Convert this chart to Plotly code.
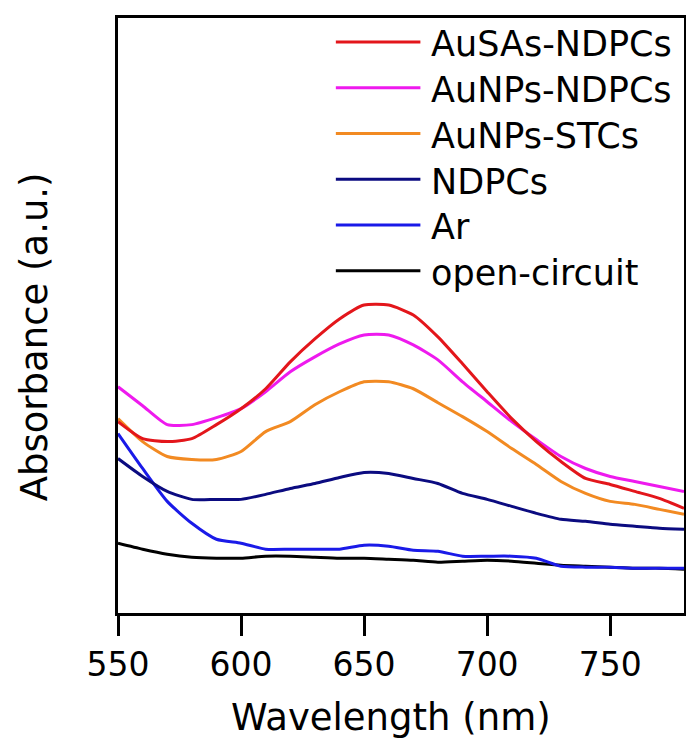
"""UV-vis absorbance spectra (indophenol-type band) for the Au catalysts."""
import plotly.graph_objects as go

wavelength = [550, 560, 570, 580, 590, 600, 610, 620, 630, 640, 650, 660,
              670, 680, 690, 700, 710, 720, 730, 740, 750, 760, 770, 780]

ausas_ndpcs = [1.92, 1.75, 1.72, 1.75, 1.89, 2.05, 2.25, 2.52, 2.75, 2.95, 3.09, 3.09,
               2.99, 2.77, 2.50, 2.22, 1.95, 1.72, 1.52, 1.35, 1.29, 1.22, 1.15, 1.05]
aunps_ndpcs = [2.27, 2.08, 1.89, 1.89, 1.96, 2.05, 2.22, 2.42, 2.57, 2.70, 2.79, 2.79,
               2.69, 2.54, 2.32, 2.12, 1.92, 1.74, 1.57, 1.45, 1.37, 1.32, 1.27, 1.22]
aunps_stcs = [1.95, 1.72, 1.57, 1.54, 1.54, 1.62, 1.82, 1.92, 2.09, 2.22, 2.32, 2.32,
              2.25, 2.11, 1.97, 1.82, 1.65, 1.49, 1.32, 1.20, 1.12, 1.09, 1.04, 0.99]
ndpcs = [1.55, 1.37, 1.22, 1.14, 1.14, 1.14, 1.19, 1.25, 1.30, 1.36, 1.41, 1.40,
         1.35, 1.30, 1.20, 1.14, 1.07, 1.00, 0.94, 0.92, 0.89, 0.87, 0.85, 0.84]
ar = [1.80, 1.45, 1.12, 0.90, 0.74, 0.70, 0.64, 0.64, 0.64, 0.64, 0.68, 0.67,
      0.63, 0.62, 0.57, 0.57, 0.57, 0.55, 0.47, 0.46, 0.46, 0.45, 0.45, 0.45]
open_circuit = [0.70, 0.64, 0.59, 0.56, 0.55, 0.55, 0.57, 0.57, 0.56, 0.55, 0.55, 0.54,
                0.53, 0.51, 0.52, 0.53, 0.52, 0.50, 0.48, 0.47, 0.46, 0.45, 0.45, 0.44]

names = ["AuSAs-NDPCs", "AuNPs-NDPCs", "AuNPs-STCs", "NDPCs", "Ar", "open-circuit"]
series = [ausas_ndpcs, aunps_ndpcs, aunps_stcs, ndpcs, ar, open_circuit]
colors = ["#e3161b", "#ee1aee", "#f28a22", "#0b0b80", "#1a1ae8", "#000000"]
xticks = [550, 600, 650, 700, 750]

FONT = "DejaVu Sans"
PAGE_PAD = 8  # default body margin of the html page
WIN_W, WIN_H = 694, 743

fig = go.Figure()
# draw back to front so red ends on top
for name, ys, col in reversed(list(zip(names, series, colors))):
    fig.add_trace(go.Scatter(
        x=wavelength, y=ys, name=name, mode="lines",
        line=dict(color=col, width=3, shape="spline", smoothing=0.6),
        showlegend=False,
    ))

# plot box in window pixels
LEFT, RIGHT, TOP, BOTTOM = 118, 687, 16, 613
W_PLOT, H_PLOT = RIGHT - LEFT, BOTTOM - TOP


def px_x(x):
    return (x - LEFT) / W_PLOT


def px_y(y):
    return (BOTTOM - y) / H_PLOT


# hand-drawn legend, long line samples like the original
for i, (name, col) in enumerate(zip(names, colors)):
    yy = px_y(40 + 45.9 * i)
    fig.add_shape(type="line", xref="paper", yref="paper",
                  x0=px_x(337), x1=px_x(422), y0=yy, y1=yy,
                  line=dict(color=col, width=3))
    fig.add_annotation(xref="paper", yref="paper", x=px_x(431), y=yy - 0.004,
                       text=name, showarrow=False, xanchor="left", yanchor="middle",
                       font=dict(family=FONT, size=35, color="black"))

fig.add_annotation(xref="paper", yref="paper", x=px_x(392), y=px_y(718),
                   text="Wavelength (nm)", showarrow=False,
                   xanchor="center", yanchor="middle",
                   font=dict(family=FONT, size=37, color="black"))
fig.add_annotation(xref="paper", yref="paper", x=px_x(34), y=px_y(336),
                   text="Absorbance (a.u.)", showarrow=False, textangle=-90,
                   xanchor="center", yanchor="middle",
                   font=dict(family=FONT, size=37, color="black"))

fig_w = WIN_W - PAGE_PAD
fig_h = WIN_H - PAGE_PAD
fig.update_layout(
    width=fig_w, height=fig_h,
    margin=dict(l=LEFT - PAGE_PAD, r=fig_w - (RIGHT - PAGE_PAD),
                t=TOP - PAGE_PAD, b=fig_h - (BOTTOM - PAGE_PAD)),
    paper_bgcolor="white", plot_bgcolor="white",
    font=dict(family=FONT, color="black"),
)
fig.update_xaxes(
    range=[550, 780], tickvals=xticks, ticks="outside", ticklen=20, tickwidth=3,
    tickcolor="black", tickfont=dict(family=FONT, size=33, color="black"),
    showline=True, linewidth=3, linecolor="black", mirror=True,
    showgrid=False, zeroline=False,
)
fig.update_yaxes(
    range=[0, 5.97], showticklabels=False, ticks="",
    showline=True, linewidth=3, linecolor="black", mirror=True,
    showgrid=False, zeroline=False,
)

fig.write_html("out.html")
